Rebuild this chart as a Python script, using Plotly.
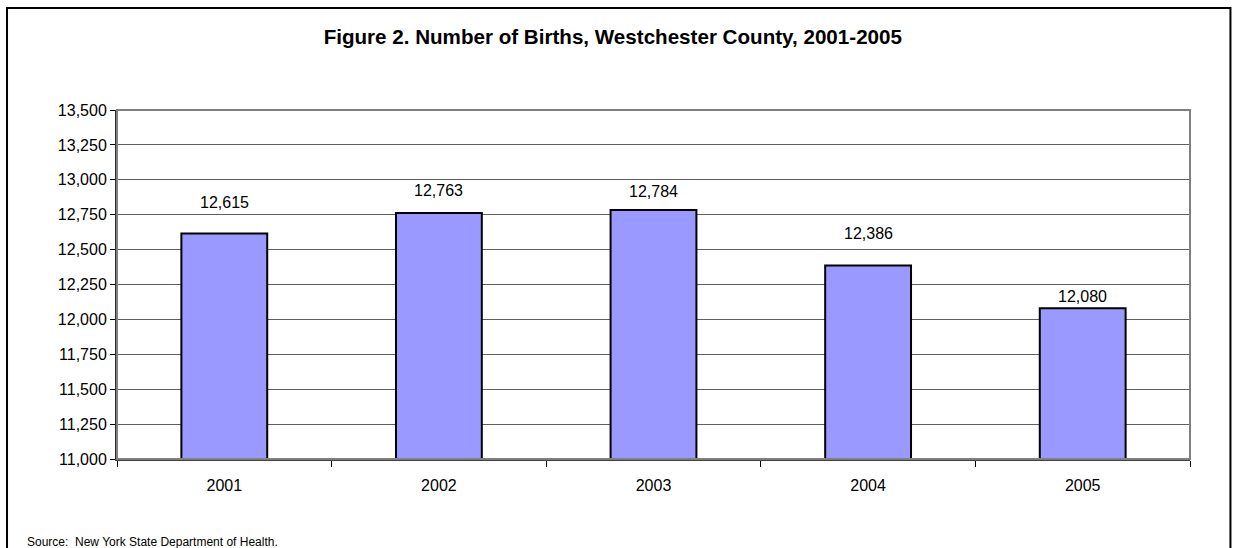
import plotly.graph_objects as go

# data
years = ["2001", "2002", "2003", "2004", "2005"]
births = [12615, 12763, 12784, 12386, 12080]
label_lift = [31, 22, 18, 32, 12]  # px above bar top for each value label

fig = go.Figure()

fig.add_trace(go.Bar(
    x=years,
    y=births,
    marker=dict(color="#9999FF", line=dict(color="black", width=2)),
    showlegend=False,
))

# value labels (Excel puts them at slightly different heights)
# x given as category index: a numeric-looking string would be read as an index
for i, (val, lift) in enumerate(zip(births, label_lift)):
    fig.add_annotation(
        x=i, y=val, text=f"{val:,}", showarrow=False,
        yanchor="middle", yshift=lift,
        font=dict(size=16, color="black"),
    )

# plot area border (gray), on top of grid
fig.add_shape(type="rect", xref="paper", yref="paper", x0=0, x1=1, y0=0, y1=1,
              line=dict(color="#808080", width=2), layer="above")

# outer chart frame
fig.add_shape(type="rect", xref="paper", yref="paper",
              x0=-0.1025, x1=1.0377, y0=-0.30, y1=1.2923,
              line=dict(color="black", width=2))

fig.add_annotation(
    text="Source:  New York State Department of Health.",
    xref="paper", yref="paper", x=-0.0858, y=-0.237,
    xanchor="left", yanchor="middle", showarrow=False,
    font=dict(size=12, color="black"),
)

fig.update_layout(
    width=1233, height=548,
    margin=dict(l=117, r=43, t=110, b=89),
    paper_bgcolor="white", plot_bgcolor="white",
    font=dict(family="Liberation Sans, Arial, sans-serif", color="black"),
    title=dict(
        text="<b>Figure 2. Number of Births, Westchester County, 2001-2005</b>",
        x=0.497, xanchor="center", y=0.9325, yanchor="middle",
        font=dict(size=20.6, color="black"),
    ),
    bargap=0.6,
    xaxis=dict(
        type="category", range=[-0.5, len(years) - 0.5],
        showgrid=False, ticks="outside", tickson="boundaries", ticklen=6,
        tickcolor="black", showline=True, linecolor="#404040", linewidth=2,
        tickfont=dict(size=16), ticklabelstandoff=11,
    ),
    yaxis=dict(
        range=[11000, 13500], dtick=250, tickformat=",",
        showgrid=True, gridcolor="#606060", gridwidth=1,
        ticks="outside", ticklen=5, tickcolor="black",
        showline=True, linecolor="#303030", linewidth=2,
        tickfont=dict(size=16), zeroline=False,
    ),
)

# the page body has an 8px default margin; drop it so the chart sits at 0,0
fig.write_html("out.html", config={"displayModeBar": False},
               post_script="document.body.style.margin='0';")
